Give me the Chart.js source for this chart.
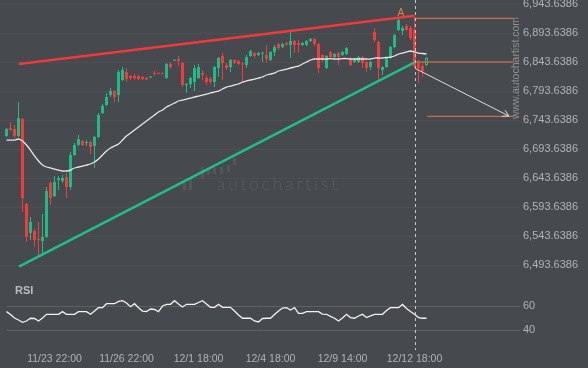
<!DOCTYPE html>
<html>
<head>
<meta charset="utf-8">
<script src="https://cdn.jsdelivr.net/npm/chart.js@4.4.1/dist/chart.umd.min.js"></script>
<style>
  html, body { margin: 0; padding: 0; background: #46494d; }
  body { width: 588px; height: 368px; position: relative; overflow: hidden; }
  #wrapMain { position: absolute; left: 0; top: 0; width: 588px; height: 282px; }
  #wrapRsi { position: absolute; left: 0; top: 282px; width: 588px; height: 86px; }
</style>
</head>
<body>
<div id="wrapMain"><canvas id="mainChart"></canvas></div>
<div id="wrapRsi"><canvas id="rsiChart"></canvas></div>
<script>
// ── Data (4h candles, index 0 = first bar) ───────────────────────────────────
const openP = [
  6716.0, 6729.8, 6728.1, 6716.0, 6745.3, 6598.8, 6548.8, 6552.3, 6538.5, 6535.0,
  6541.9, 6635.0, 6612.6, 6640.2, 6638.5, 6645.3, 6628.1, 6683.3, 6700.5, 6707.4,
  6704.0, 6705.7, 6698.8, 6714.3, 6755.7, 6769.5, 6786.7, 6793.6, 6786.7, 6812.6,
  6826.4, 6819.5, 6819.5, 6819.5, 6817.7, 6816.0, 6816.9, 6824.6, 6824.6, 6824.6,
  6816.0, 6840.2, 6846.2, 6848.8, 6841.9, 6804.0, 6805.7, 6809.1, 6816.0, 6824.6,
  6816.0, 6814.3, 6809.1, 6833.3, 6854.0, 6838.4, 6835.0, 6847.1, 6845.3, 6841.0,
  6838.4, 6854.0, 6859.1, 6855.7, 6858.3, 6855.7, 6847.1, 6860.9, 6874.6, 6869.5,
  6876.4, 6872.9, 6879.8, 6876.4, 6872.9, 6872.9, 6879.8, 6883.3, 6874.6, 6855.7,
  6833.3, 6860.9, 6852.2, 6859.1, 6855.7, 6857.4, 6850.5, 6843.6, 6843.6, 6852.2,
  6843.6, 6835.0, 6895.3, 6878.1, 6829.8, 6835.0, 6850.5, 6869.5, 6898.8, 6897.1,
  6905.7, 6902.2, 6898.8, 6841.9, 6836.7, 6838.4
];
const highP = [
  6729.8, 6740.2, 6735.0, 6774.7, 6747.1, 6600.5, 6576.4, 6555.7, 6567.8, 6581.6,
  6628.1, 6638.5, 6647.1, 6647.1, 6648.8, 6652.2, 6688.4, 6704.0, 6717.8, 6709.1,
  6709.1, 6707.4, 6716.0, 6755.7, 6771.2, 6790.2, 6798.8, 6795.3, 6829.8, 6835.0,
  6833.3, 6821.2, 6822.9, 6821.2, 6819.5, 6817.7, 6819.5, 6828.1, 6825.5, 6825.5,
  6841.9, 6843.6, 6847.9, 6854.0, 6843.6, 6807.4, 6817.7, 6838.4, 6840.2, 6829.8,
  6821.2, 6817.7, 6836.7, 6852.2, 6859.1, 6841.9, 6848.8, 6848.8, 6847.1, 6843.6,
  6855.7, 6864.3, 6860.9, 6860.9, 6860.9, 6872.9, 6862.6, 6872.9, 6876.4, 6876.4,
  6878.1, 6895.3, 6881.5, 6881.5, 6878.1, 6881.5, 6885.0, 6885.0, 6876.4, 6857.4,
  6855.7, 6862.6, 6859.1, 6860.9, 6862.6, 6869.5, 6852.2, 6850.5, 6854.0, 6854.0,
  6845.3, 6845.3, 6902.2, 6879.8, 6836.7, 6852.2, 6871.2, 6891.9, 6921.2, 6905.7,
  6909.1, 6905.7, 6921.2, 6847.1, 6841.9, 6852.2
];
const lowP = [
  6714.3, 6724.6, 6712.6, 6714.3, 6585.0, 6533.3, 6536.7, 6524.7, 6509.2, 6514.3,
  6540.2, 6597.1, 6610.9, 6622.9, 6635.0, 6609.1, 6622.9, 6681.5, 6698.8, 6698.8,
  6698.8, 6685.0, 6660.9, 6712.6, 6754.0, 6767.8, 6783.3, 6774.7, 6774.7, 6810.9,
  6809.1, 6812.6, 6812.6, 6812.6, 6812.6, 6812.6, 6816.0, 6819.5, 6822.9, 6822.9,
  6814.3, 6831.5, 6845.3, 6836.7, 6800.5, 6790.2, 6798.8, 6793.6, 6814.3, 6812.6,
  6804.0, 6805.7, 6800.5, 6817.7, 6812.6, 6829.8, 6826.4, 6840.2, 6838.4, 6809.1,
  6833.3, 6852.2, 6850.5, 6854.0, 6843.6, 6841.9, 6845.3, 6854.0, 6864.3, 6867.7,
  6871.2, 6850.5, 6859.1, 6859.1, 6871.2, 6871.2, 6878.1, 6871.2, 6824.6, 6843.6,
  6831.5, 6850.5, 6850.5, 6838.4, 6854.0, 6855.7, 6836.7, 6841.9, 6841.9, 6833.3,
  6826.4, 6829.8, 6878.1, 6812.6, 6821.2, 6833.3, 6848.8, 6867.7, 6897.1, 6890.2,
  6897.1, 6881.5, 6833.3, 6807.4, 6817.7, 6836.7
];
const closeP = [
  6728.1, 6726.4, 6716.0, 6747.1, 6609.1, 6541.9, 6567.8, 6536.7, 6536.7, 6541.9,
  6621.2, 6609.1, 6636.7, 6643.6, 6643.6, 6628.1, 6683.3, 6700.5, 6710.9, 6700.5,
  6705.7, 6697.1, 6714.3, 6752.2, 6767.8, 6783.3, 6793.6, 6783.3, 6826.4, 6829.8,
  6814.3, 6816.0, 6816.0, 6814.3, 6814.3, 6813.5, 6818.6, 6822.9, 6823.2, 6823.2,
  6840.2, 6835.0, 6847.4, 6845.3, 6804.0, 6805.7, 6816.0, 6833.3, 6835.0, 6821.2,
  6809.1, 6809.1, 6835.0, 6850.5, 6841.9, 6833.3, 6847.1, 6841.9, 6840.2, 6839.3,
  6852.2, 6862.6, 6854.0, 6859.1, 6860.0, 6848.8, 6860.9, 6869.5, 6867.7, 6874.6,
  6873.8, 6879.8, 6872.9, 6872.9, 6876.4, 6879.8, 6883.3, 6874.6, 6833.3, 6850.5,
  6854.0, 6852.2, 6857.4, 6852.2, 6860.9, 6867.7, 6838.4, 6848.8, 6852.2, 6841.9,
  6833.3, 6843.6, 6881.5, 6833.3, 6835.0, 6850.5, 6869.5, 6890.2, 6916.0, 6902.2,
  6898.8, 6885.0, 6836.7, 6833.3, 6828.1, 6850.5
];
const maVals = [
  6709.1, 6709.1, 6709.1, 6710.9, 6707.4, 6700.5, 6691.9, 6681.6, 6672.9, 6666.0,
  6662.6, 6660.9, 6659.1, 6657.4, 6655.7, 6655.7, 6657.4, 6660.9, 6662.6, 6664.3,
  6666.0, 6667.8, 6671.2, 6676.4, 6683.3, 6690.2, 6695.3, 6698.8, 6702.2, 6709.1,
  6716.0, 6721.2, 6726.4, 6731.5, 6736.7, 6741.9, 6747.1, 6752.2, 6757.4, 6760.9,
  6766.0, 6769.5, 6772.9, 6776.4, 6778.1, 6779.8, 6781.5, 6783.3, 6785.0, 6786.7,
  6788.4, 6790.2, 6791.9, 6793.6, 6797.1, 6800.5, 6802.2, 6804.0, 6805.7, 6809.1,
  6810.9, 6812.6, 6814.3, 6816.0, 6817.8, 6821.2, 6822.9, 6824.6, 6828.1, 6829.8,
  6831.5, 6833.3, 6835.0, 6836.7, 6840.2, 6843.6, 6847.1, 6848.8, 6848.8, 6848.8,
  6848.8, 6849.6, 6848.8, 6848.8, 6849.6, 6849.6, 6848.8, 6848.8, 6848.8, 6848.8,
  6848.8, 6848.8, 6850.5, 6850.5, 6850.5, 6851.4, 6852.2, 6854.0, 6857.4, 6859.1,
  6860.9, 6862.6, 6860.9, 6859.1, 6858.3, 6857.4
];
const rsiVals = [
  55.3, 52.9, 50.0, 48.3, 46.4, 47.5, 49.8, 49.6, 47.5, 50.0,
  53.1, 53.1, 53.1, 53.1, 55.3, 53.1, 53.1, 53.1, 55.3, 55.3,
  55.3, 53.1, 55.8, 58.6, 58.6, 61.9, 61.9, 61.9, 63.8, 64.4,
  62.5, 59.4, 61.9, 58.6, 55.8, 55.3, 57.5, 57.1, 55.3, 60.0,
  61.4, 61.4, 64.4, 61.7, 59.2, 61.4, 61.4, 61.4, 62.9, 64.4,
  61.7, 58.9, 58.9, 61.4, 58.9, 58.9, 58.9, 55.8, 52.5, 49.8,
  49.8, 49.8, 47.5, 46.7, 49.6, 49.8, 49.8, 52.9, 55.8, 58.3,
  58.6, 56.7, 58.6, 53.9, 53.9, 55.3, 55.3, 55.3, 55.3, 53.3,
  53.1, 51.3, 49.8, 47.5, 50.0, 53.1, 50.4, 49.8, 51.7, 53.1,
  50.4, 51.7, 53.1, 53.1, 53.1, 56.3, 58.6, 58.6, 58.6, 61.3,
  57.9, 55.4, 53.1, 50.4, 49.8, 49.8
];

const xTickIdx = [12, 30, 48, 66, 84, 102];
const xTickLabels = ['11/23 22:00', '11/26 22:00', '12/1 18:00', '12/4 18:00', '12/9 14:00', '12/12 18:00'];
const priceTicks = [6493.6386, 6543.6386, 6593.6386, 6643.6386, 6693.6386, 6743.6386, 6793.6386, 6843.6386, 6893.6386, 6943.6386];
const rsiTicks = [40, 60];

// pattern lines: [barIndex, price]
const resistLine = [[3.1, 6840.2], [102, 6923.5]];
const supportLine = [[3.1, 6490.7], [102, 6843.1]];
const levelTop = [[102, 6919.0], [126.8, 6919.0]];
const levelMid = [[102, 6843.6], [126.8, 6843.6]];
const levelTarget = [[105.2, 6750.0], [126.8, 6750.0]];
const forecastArrow = [[102.1, 6832.8], [125.6, 6750.5]];
const breakIdx = 102;
const pointA = [98.6, 6928.0];

// ── Style ─────────────────────────────────────────────────────────────────────
const COLORS = {
  up: '#1ebb87',
  down: '#ef3c3c',
  resist: '#f03a3a',
  support: '#1fbf8b',
  level: '#f2763a',
  ma: '#e8e8e8',
  arrow: '#dcdcdc',
  axis: '#b0b3b7',
  rsiGrid: '#5d6166'
};
const FONT = "'Liberation Sans', Arial, sans-serif";
Chart.defaults.font.family = FONT;
Chart.defaults.font.size = 11;

// x scale: 4px per bar, bar 0 centred at 6.5px
const X_MIN = -1.625;
const X_MAX = 128.375;
const P_MAX = 6950.5352;
const P_MIN = 6464.3283;

const idx = openP.map((_, i) => i);
const isUp = idx.map(i => closeP[i] >= openP[i]);
const lastBar = idx.length - 1;
const pts = arr => arr.map(p => ({ x: p[0], y: p[1] }));
const fmtPrice = v => Number(v).toLocaleString('en-US', { minimumFractionDigits: 4, maximumFractionDigits: 4 });

// keep the chart area fixed: no extra room reserved for edge labels
function noEdgePad(s) {
  s.paddingTop = 0; s.paddingBottom = 0; s.paddingLeft = 0; s.paddingRight = 0;
}

function lineSet(data, color, width, order) {
  return {
    type: 'line', data: pts(data), borderColor: color, borderWidth: width,
    pointRadius: 0, fill: false, tension: 0, order
  };
}

// ── Overlay drawing (watermarks, markers, dashed break line) ──────────────────
const mainDecor = {
  id: 'mainDecor',
  beforeDatasetsDraw(chart) {
    const { ctx } = chart;
    ctx.save();
    ctx.fillStyle = 'rgba(255,255,255,0.08)';
    [[183, 183, 7], [189, 178, 12], [201, 167, 11], [207, 170, 5], [213, 168, 6], [220, 167, 7], [227, 165, 7], [233, 158, 7]]
      .forEach(b => ctx.fillRect(b[0], b[1], 3, b[2]));
    ctx.fillStyle = 'rgba(255,255,255,0.10)';
    ctx.font = "300 17px Lato, 'Open Sans', sans-serif";
    ctx.letterSpacing = '3px';
    ctx.textBaseline = 'alphabetic';
    ctx.textAlign = 'left';
    ctx.fillText('autochartist', 217, 190);
    ctx.restore();
  },
  afterDatasetsDraw(chart) {
    const { ctx, scales: { x, y }, chartArea } = chart;
    ctx.save();
    // break line
    const bx = Math.round(x.getPixelForValue(breakIdx)) + 0.5;
    ctx.strokeStyle = '#c9c9c9';
    ctx.lineWidth = 1;
    ctx.setLineDash([3, 3]);
    ctx.beginPath();
    ctx.moveTo(bx, chartArea.top);
    ctx.lineTo(bx, chartArea.bottom);
    ctx.stroke();
    ctx.setLineDash([]);

    // arrow head
    const meta = chart.getDatasetMeta(chart.data.datasets.findIndex(d => d.label === 'arrow'));
    const p0 = meta.data[0], p1 = meta.data[1];
    const ang = Math.atan2(p1.y - p0.y, p1.x - p0.x);
    ctx.strokeStyle = COLORS.arrow;
    ctx.beginPath();
    [Math.PI - 0.52, Math.PI + 0.52].forEach(a => {
      ctx.moveTo(p1.x, p1.y);
      ctx.lineTo(p1.x + 7 * Math.cos(ang + a), p1.y + 7 * Math.sin(ang + a));
    });
    ctx.stroke();

    // point A
    ctx.fillStyle = '#e8843c';
    ctx.font = '10px ' + FONT;
    ctx.textAlign = 'center';
    ctx.textBaseline = 'middle';
    ctx.fillText('A', x.getPixelForValue(pointA[0]), y.getPixelForValue(pointA[1]));

    // vertical site watermark
    ctx.translate(516, 68);
    ctx.rotate(-Math.PI / 2);
    ctx.fillStyle = '#8f9297';
    ctx.font = '10.5px ' + FONT;
    ctx.fillText('www.autochartist.com', 0, 0);
    ctx.restore();
  }
};

const rsiDecor = {
  id: 'rsiDecor',
  afterDatasetsDraw(chart) {
    const { ctx, scales: { x }, chartArea } = chart;
    ctx.save();
    const bx = Math.round(x.getPixelForValue(breakIdx)) + 0.5;
    ctx.strokeStyle = '#c9c9c9';
    ctx.lineWidth = 1;
    ctx.setLineDash([3, 3]);
    ctx.beginPath();
    ctx.moveTo(bx, 0);
    ctx.lineTo(bx, chartArea.bottom + 4);
    ctx.stroke();
    ctx.setLineDash([]);
    ctx.fillStyle = '#b9bcc0';
    ctx.font = 'bold 11px ' + FONT;
    ctx.textAlign = 'left';
    ctx.textBaseline = 'middle';
    ctx.fillText('RSI', 15, 9);
    ctx.restore();
  }
};

// ── Main price chart ──────────────────────────────────────────────────────────
new Chart(document.getElementById('mainChart'), {
  type: 'bar',
  data: {
    datasets: [
      {
        label: 'wicks',
        data: idx.map(i => ({ x: i, y: [lowP[i], highP[i]] })),
        backgroundColor: idx.map(i => isUp[i] ? COLORS.up : COLORS.down),
        barThickness: 1, grouped: false, minBarLength: 1, inflateAmount: 0, order: 6
      },
      {
        label: 'bodies',
        data: idx.map(i => ({ x: i, y: [Math.min(openP[i], closeP[i]), Math.max(openP[i], closeP[i])] })),
        backgroundColor: idx.map(i => i === lastBar ? '#46494d' : (isUp[i] ? COLORS.up : COLORS.down)),
        borderColor: idx.map(i => isUp[i] ? COLORS.up : COLORS.down),
        borderWidth: idx.map(i => i === lastBar ? 1 : 0),
        borderSkipped: false,
        barThickness: 3, grouped: false, minBarLength: 1, inflateAmount: 0, order: 5
      },
      {
        type: 'line', label: 'ma', data: idx.map(i => ({ x: i, y: maVals[i] })),
        borderColor: COLORS.ma, borderWidth: 1.3, pointRadius: 0, tension: 0.3, order: 4
      },
      lineSet(resistLine, COLORS.resist, 2.5, 3),
      lineSet(supportLine, COLORS.support, 2.5, 3),
      lineSet(levelTop, COLORS.level, 1, 2),
      lineSet(levelMid, COLORS.level, 1, 2),
      lineSet(levelTarget, COLORS.level, 1, 2),
      Object.assign(lineSet(forecastArrow, COLORS.arrow, 1, 1), { label: 'arrow' })
    ]
  },
  options: {
    responsive: true,
    maintainAspectRatio: false,
    animation: false,
    layout: { padding: 0 },
    plugins: { legend: { display: false }, tooltip: { enabled: false } },
    scales: {
      x: { type: 'linear', min: X_MIN, max: X_MAX, offset: false, display: false },
      y: {
        position: 'right', min: P_MIN, max: P_MAX,
        afterFit: s => { s.width = 68; noEdgePad(s); },
        afterBuildTicks: s => { s.ticks = priceTicks.map(v => ({ value: v })); },
        ticks: { callback: v => fmtPrice(v), color: COLORS.axis, padding: 3, font: { size: 11 } },
        grid: { color: 'rgba(255,255,255,0.035)', drawTicks: false },
        border: { display: false }
      }
    }
  },
  plugins: [mainDecor]
});

// ── RSI panel ─────────────────────────────────────────────────────────────────
new Chart(document.getElementById('rsiChart'), {
  type: 'line',
  data: {
    datasets: [{
      data: idx.map(i => ({ x: i, y: rsiVals[i] })),
      borderColor: '#f2f2f2', borderWidth: 1.3, pointRadius: 0, tension: 0, clip: false
    }]
  },
  options: {
    responsive: true,
    maintainAspectRatio: false,
    animation: false,
    layout: { padding: { left: 7 } },
    plugins: { legend: { display: false }, tooltip: { enabled: false } },
    scales: {
      x: {
        type: 'linear', min: X_MIN + 7 / 4, max: X_MAX, offset: false,
        afterFit: s => { s.height = 22; noEdgePad(s); },
        afterBuildTicks: s => { s.ticks = xTickIdx.map(v => ({ value: v })); },
        ticks: {
          callback: v => xTickLabels[xTickIdx.indexOf(v)],
          color: COLORS.axis, padding: -1, maxRotation: 0, autoSkip: false, font: { size: 10.5 }
        },
        grid: { display: false },
        border: { display: false }
      },
      y: {
        position: 'right', min: 26.667, max: 80,
        afterFit: s => { s.width = 68; noEdgePad(s); },
        afterBuildTicks: s => { s.ticks = rsiTicks.map(v => ({ value: v })); },
        ticks: { color: COLORS.axis, padding: 3, font: { size: 11 } },
        grid: { color: COLORS.rsiGrid, drawTicks: false },
        border: { display: false }
      }
    }
  },
  plugins: [rsiDecor]
});
</script>
</body>
</html>
